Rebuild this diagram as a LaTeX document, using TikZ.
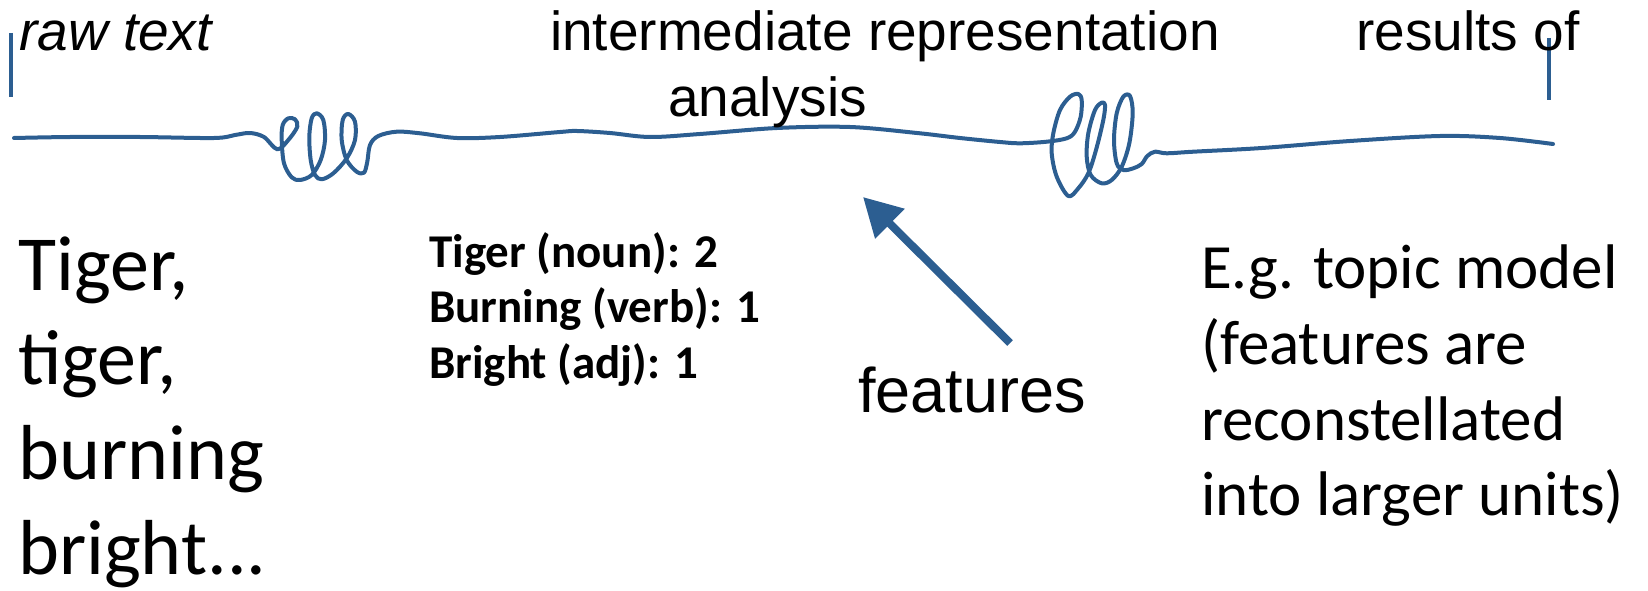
\documentclass[tikz,border=0pt]{standalone}
\usepackage{fontspec}
\setmainfont{Liberation Sans}
\newfontfamily\calf{Carlito}
\usetikzlibrary{arrows.meta}
\definecolor{inkblue}{HTML}{2C5E91}
\begin{document}
\begin{tikzpicture}[x=1pt,y=-1pt,
  wave/.style={draw=inkblue,line width=4pt,line cap=round,line join=round},
  tickline/.style={draw=inkblue,line width=3.5pt},
  bigarrow/.style={draw=inkblue,fill=inkblue,line width=8pt,-{Triangle[length=38pt,width=40pt]}},
  toptxt/.style={anchor=base west,inner sep=0pt,font=\fontsize{55}{66}\selectfont},
  topit/.style={anchor=base west,inner sep=0pt,font=\fontsize{55}{66}\selectfont\itshape},
  feattxt/.style={anchor=base west,inner sep=0pt,font=\fontsize{63}{76}\selectfont},
  boldlist/.style={anchor=base west,inner sep=0pt,font=\calf\bfseries\fontsize{47}{56}\selectfont},
  poem/.style={anchor=base west,inner sep=0pt,font=\calf\fontsize{78}{96}\selectfont},
  egtxt/.style={anchor=base west,inner sep=0pt,font=\calf\fontsize{63}{76}\selectfont}]
\useasboundingbox (0,0) rectangle (1648,591);

% ticks
\coordinate (lt1) at (11,33); \coordinate (lt2) at (11,97);
\coordinate (rt1) at (1549,38); \coordinate (rt2) at (1549,100);
\draw[tickline] (lt1) -- (lt2);
\draw[tickline] (rt1) -- (rt2);

% wavy timeline with loops
\draw[wave] plot[smooth,tension=0.55] coordinates {
(14,138) (70,137) (140,137) (214,138) (235,135) (250,133) (264,137) (277.3,149.3)
(288.3,140) (297.3,126.7) (295,119.3) (288.3,118.3) (282.7,125) (281.7,140) (284,163.3)
(291.7,177.3) (300,180) (311.7,175) (320.7,160) (325,140) (323.3,120) (316.7,113.3)
(311.7,118.3) (309.3,136.7) (310.7,160) (315,175) (321.7,179.3) (333.3,173.3)
(346.7,158.3) (355,140) (355,121.7) (348.3,114) (342.7,120) (341.7,140) (346.7,160)
(356.7,171.7) (364,172.7) (367.3,161.7) (370,145) (378.3,136) (396.7,131.7) (420,133.3)
(457,138) (500,137) (560,132) (577,131) (610,133) (650,137) (700,134) (777,128)
(850,127) (917,133) (960,138) (1000,142) (1020,143.3) (1046.7,141.7) (1066.7,138.3)
(1075,131.7) (1080.7,116.7) (1081.7,100) (1078.3,94) (1070,96.7) (1060,110)
(1053.3,133.3) (1051.7,153.3) (1056.7,176.7) (1068.3,196) (1078.3,188.3) (1088.3,173.3)
(1096,150) (1103.3,120) (1105,105) (1101.7,102.7) (1095,110) (1088.3,133.3)
(1086.7,156.7) (1090.7,175) (1101.7,183.3) (1111.7,180) (1121.7,166.7) (1129.3,143.3)
(1132.7,113.3) (1130,96) (1123.3,96.7) (1116.7,113.3) (1114,140) (1116.7,163.3)
(1123.3,170) (1133.3,168.3) (1141.7,164) (1147.3,156) (1155,151.7) (1166.7,153.3)
(1193.3,151.7) (1262,148) (1350,141) (1440,136) (1500,138) (1553,144)};

% top labels
\node[topit] (raw) at (19,51) {raw text};
\node[toptxt] (inter) at (550,51) {intermediate representation};
\node[toptxt] (anal) at (668,117) {analysis};
\node[toptxt] (res) at (1356,51) {results of};

% poem
\node[poem] (p1) at (18,290) {Tiger,};
\node[poem] (p2) at (18,384) {tiger,};
\node[poem] (p3) at (18,479) {burning};
\node[poem] (p4) at (18,574) {bright...};

% feature list
\node[boldlist] (f1) at (429,267) {Tiger (noun): 2};
\node[boldlist] (f2) at (429,322) {Burning (verb): 1};
\node[boldlist] (f3) at (429,378) {Bright (adj): 1};

% features arrow
\node[feattxt] (feat) at (858,412) {features};
\coordinate (atail) at (1010,343);
\coordinate (ahead) at (863,197);
\draw[bigarrow] (atail) -- (ahead);

% right text
\node[egtxt] (e1) at (1201,288) {E.g. topic model};
\node[egtxt] (e2) at (1201,364) {(features are};
\node[egtxt] (e3) at (1201,440) {reconstellated};
\node[egtxt] (e4) at (1201,515) {into larger units)};
\end{tikzpicture}
\end{document}
